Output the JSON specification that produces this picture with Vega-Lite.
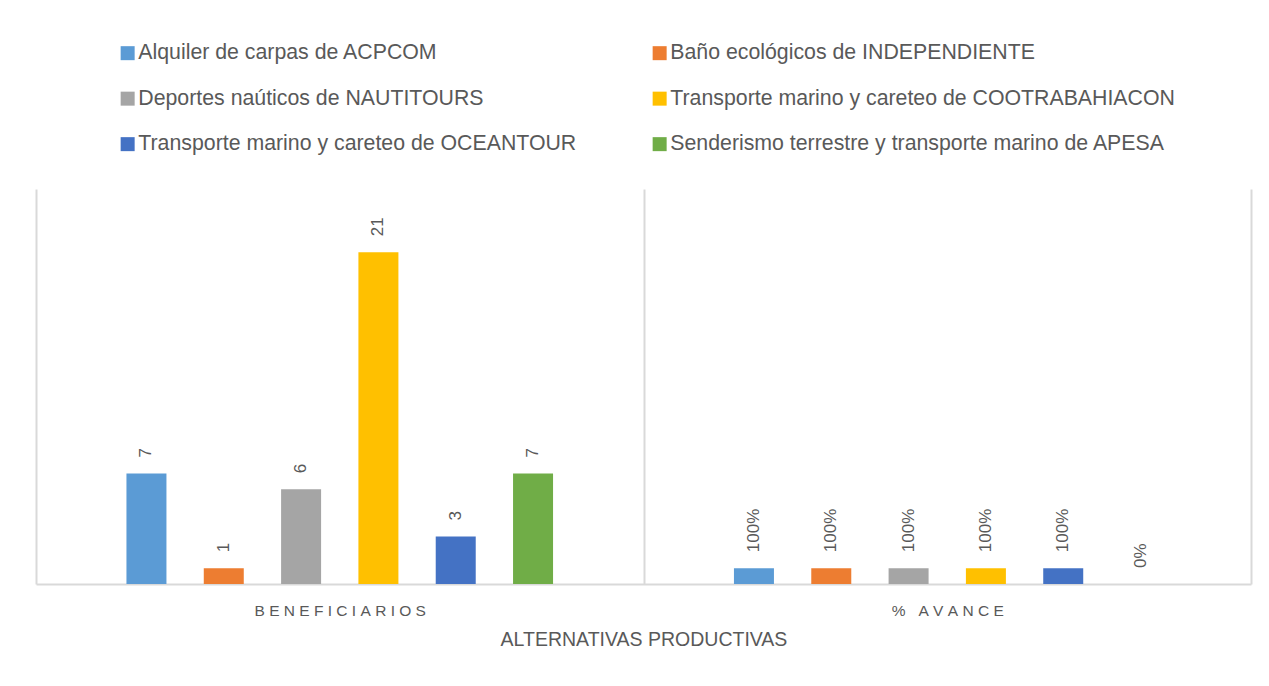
{
  "$schema": "https://vega.github.io/schema/vega-lite/v6.json",
  "width": 1215,
  "height": 395,
  "autosize": {"type": "none"},
  "padding": {"left": 36, "top": 189, "right": 18, "bottom": 102},
  "background": "white",
  "config": {"view": {"stroke": null}, "font": "Liberation Sans"},
  "data": {
    "values": [
      {"categoria": "BENEFICIARIOS", "alternativa": "Alquiler de carpas de ACPCOM", "valor": 7},
      {"categoria": "BENEFICIARIOS", "alternativa": "Baño ecológicos de INDEPENDIENTE", "valor": 1},
      {"categoria": "BENEFICIARIOS", "alternativa": "Deportes naúticos de NAUTITOURS", "valor": 6},
      {"categoria": "BENEFICIARIOS", "alternativa": "Transporte marino y careteo de COOTRABAHIACON", "valor": 21},
      {"categoria": "BENEFICIARIOS", "alternativa": "Transporte marino y careteo de OCEANTOUR", "valor": 3},
      {"categoria": "BENEFICIARIOS", "alternativa": "Senderismo terrestre y transporte marino de APESA", "valor": 7},
      {"categoria": "% AVANCE", "alternativa": "Alquiler de carpas de ACPCOM", "valor": 1},
      {"categoria": "% AVANCE", "alternativa": "Baño ecológicos de INDEPENDIENTE", "valor": 1},
      {"categoria": "% AVANCE", "alternativa": "Deportes naúticos de NAUTITOURS", "valor": 1},
      {"categoria": "% AVANCE", "alternativa": "Transporte marino y careteo de COOTRABAHIACON", "valor": 1},
      {"categoria": "% AVANCE", "alternativa": "Transporte marino y careteo de OCEANTOUR", "valor": 1},
      {"categoria": "% AVANCE", "alternativa": "Senderismo terrestre y transporte marino de APESA", "valor": 0}
    ]
  },
  "transform": [
    {"calculate": "datum.categoria == '% AVANCE' ? format(datum.valor, '.0%') : format(datum.valor, 'd')", "as": "etiqueta"}
  ],
  "encoding": {
    "x": {
      "field": "categoria",
      "type": "nominal",
      "sort": ["BENEFICIARIOS", "% AVANCE"],
      "scale": {"paddingInner": 0, "paddingOuter": 0},
      "title": "ALTERNATIVAS PRODUCTIVAS",
      "axis": {
        "labelAngle": 0,
        "labelExpr": "join(split(datum.label, ''), '\u00a0')",
        "labelFontSize": 15.5,
        "labelColor": "#595959",
        "labelPadding": 19,
        "ticks": false,
        "tickBand": "extent",
        "grid": true,
        "gridColor": "#d9d9d9",
        "gridWidth": 2,
        "domainColor": "#d9d9d9",
        "domainWidth": 2,
        "titleFontSize": 19.5,
        "titleFontWeight": "normal",
        "titleColor": "#595959",
        "titlePadding": 12
      }
    },
    "xOffset": {
      "field": "alternativa",
      "type": "nominal",
      "sort": [
        "Alquiler de carpas de ACPCOM",
        "Baño ecológicos de INDEPENDIENTE",
        "Deportes naúticos de NAUTITOURS",
        "Transporte marino y careteo de COOTRABAHIACON",
        "Transporte marino y careteo de OCEANTOUR",
        "Senderismo terrestre y transporte marino de APESA"
      ],
      "scale": {"paddingInner": 0.143, "paddingOuter": 1}
    },
    "y": {
      "field": "valor",
      "type": "quantitative",
      "scale": {"domain": [0, 25], "nice": false},
      "axis": null
    }
  },
  "layer": [
    {
      "mark": {"type": "bar", "width": 40},
      "encoding": {
        "color": {
          "field": "alternativa",
          "type": "nominal",
          "sort": [
            "Alquiler de carpas de ACPCOM",
            "Baño ecológicos de INDEPENDIENTE",
            "Deportes naúticos de NAUTITOURS",
            "Transporte marino y careteo de COOTRABAHIACON",
            "Transporte marino y careteo de OCEANTOUR",
            "Senderismo terrestre y transporte marino de APESA"
          ],
          "scale": {"range": ["#5B9BD5", "#ED7D31", "#A5A5A5", "#FFC000", "#4472C4", "#70AD47"]},
          "legend": {
            "orient": "none",
            "direction": "horizontal",
            "legendX": 81,
            "legendY": -146.5,
            "columns": 2,
            "columnPadding": 72,
            "rowPadding": 23.5,
            "padding": 0,
            "title": null,
            "symbolType": "square",
            "symbolSize": 196,
            "symbolStrokeWidth": 0,
            "symbolOpacity": 1,
            "labelFontSize": 21.3,
            "labelColor": "#595959",
            "labelOffset": 0,
            "labelLimit": 700
          }
        }
      }
    },
    {
      "mark": {"type": "text", "angle": 270, "align": "left", "baseline": "middle", "dx": 16, "fontSize": 17, "color": "#595959"},
      "encoding": {"text": {"field": "etiqueta"}}
    }
  ]
}
